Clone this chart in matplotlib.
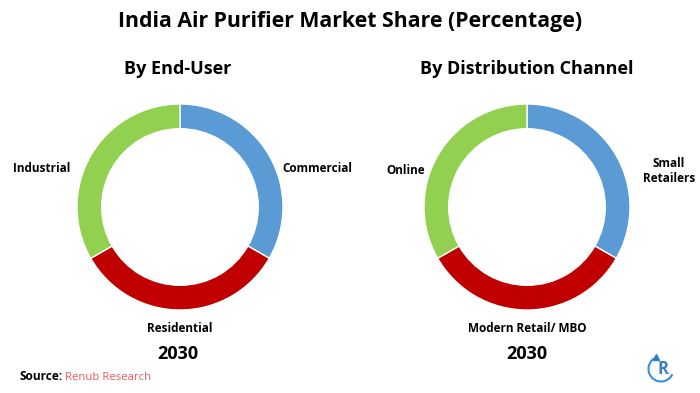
import matplotlib
matplotlib.use('Agg')
import matplotlib.pyplot as plt
from matplotlib.patches import Arc

plt.rcParams['font.family'] = ['Open Sans', 'DejaVu Sans']

W, H = 700, 393

# Market share, clockwise from 12 o'clock
end_user = ['Commercial', 'Residential', 'Industrial']
end_user_share = [33.3, 33.4, 33.3]
channel = ['Small\nRetailers', 'Modern Retail/ MBO', 'Online']
channel_share = [33.3, 33.4, 33.3]
colors = ['#5b9bd5', '#c00000', '#92d050']

title = 'India Air Purifier Market Share (Percentage)'
year = '2030'


def px_axes(fig, cx, cy, r):
    # square axes centred on a pixel position, y counted from the top
    return fig.add_axes([(cx - r)/W, 1 - (cy + r)/H, 2*r/W, 2*r/H])


def donut(fig, cx, cy, r, vals):
    ax = px_axes(fig, cx, cy, r)
    ax.pie(vals, colors=colors, startangle=90, counterclock=False, radius=1,
           wedgeprops=dict(width=0.24, edgecolor='white', linewidth=1.0))
    ax.set_xlim(-1, 1)
    ax.set_ylim(-1, 1)
    ax.axis('off')


def txt(fig, x, y, s, size, weight='bold', color='black', ha='center', **kw):
    return fig.text(x/W, 1 - y/H, s, fontsize=size, fontweight=weight, color=color,
                    ha=ha, va='center', **kw)


fig = plt.figure(figsize=(W/100, H/100), dpi=100, facecolor='white')

txt(fig, 350, 21, title, 15.3)
txt(fig, 178, 69, 'By End-User', 13)
txt(fig, 527, 69, 'By Distribution Channel', 13)

donut(fig, 180, 207, 103, end_user_share)
donut(fig, 527, 207, 103, channel_share)

txt(fig, 42, 169, end_user[2], 8.5)
txt(fig, 317, 169, end_user[0], 8.5)
txt(fig, 180, 328, end_user[1], 8.5)

txt(fig, 406, 171, channel[2], 8.5)
txt(fig, 669, 171, channel[0], 8.5, linespacing=1.25)
txt(fig, 527, 328, channel[1], 8.5)

txt(fig, 178, 354, year, 13)
txt(fig, 527, 354, year, 13)

txt(fig, 19, 377, 'Source:', 8.6, ha='left')
txt(fig, 65, 377, 'Renub Research', 8.2, weight='normal', color='#f0565a', ha='left')

# small logo, bottom right
logo = px_axes(fig, 661, 369, 16)
logo.set_xlim(-16, 16)
logo.set_ylim(-16, 16)
logo.axis('off')
logo.add_patch(Arc((0, 0), 25, 25, theta1=110, theta2=335, color='#3a8fd8', lw=1.5))
logo.plot([-5.5], [12], marker='^', ms=4, color='#2f7fc8')
logo.text(1.5, 0, 'R', fontsize=12, fontweight='bold', color='#3a7fc8', ha='center', va='center')

fig.savefig('out.png', dpi=100)
